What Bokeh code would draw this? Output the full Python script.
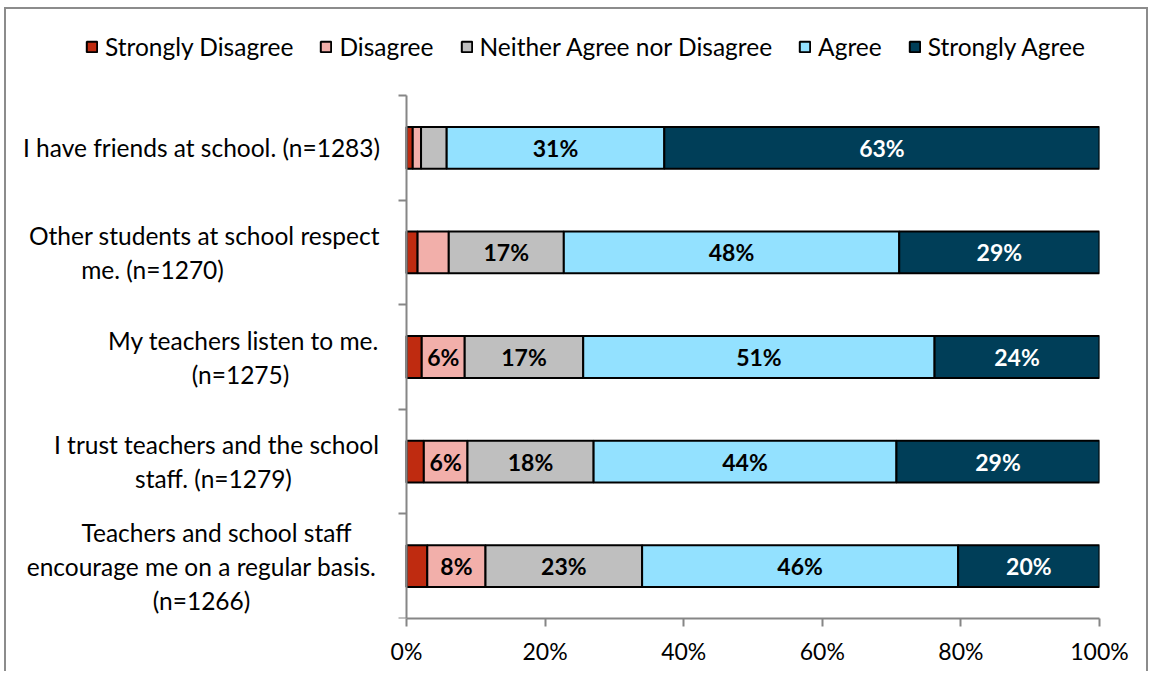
from bokeh.plotting import figure
from bokeh.models import ColumnDataSource, Range1d, FixedTicker, Legend, LegendItem, Label
from bokeh.core.properties import value
from bokeh.embed import file_html
from bokeh.resources import INLINE

# ---- data ----
categories = [
    ["I have friends at school. (n=1283)"],
    ["Other students at school respect", "me. (n=1270)"],
    ["My teachers listen to me.", "(n=1275)"],
    ["I trust teachers and the school", "staff. (n=1279)"],
    ["Teachers and school staff", "encourage me on a regular basis.", "(n=1266)"],
]
series = ["Strongly Disagree", "Disagree", "Neither Agree nor Disagree", "Agree", "Strongly Agree"]
strongly_disagree = [0.9, 1.6, 2.2, 2.5, 3.0]
disagree = [1.2, 4.5, 6.2, 6.3, 8.4]
neither = [3.7, 16.6, 17.1, 18.2, 22.6]
agree = [31.4, 48.4, 50.7, 43.7, 45.6]
strongly_agree = [62.8, 28.9, 23.8, 29.3, 20.4]
x_ticks = [0, 20, 40, 60, 80, 100]
x_tick_labels = ["0%", "20%", "40%", "60%", "80%", "100%"]

colors = ["#BF2B10", "#F2AFAA", "#BFBFBF", "#93E1FF", "#003E58"]
label_colors = ["black", "black", "black", "black", "white"]
FONT = "Lato"

values = [strongly_disagree, disagree, neither, agree, strongly_agree]
n = len(categories)
ypos = [n - 0.5 - i for i in range(n)]

# ---- geometry (pixels) ----
W, H = 1144, 664
frame_right_border = 51
frame_bottom_border = 55
plot_left_px = 400      # where 0% sits, from frame left
plot_top_px = 86        # where top category boundary sits, from frame top
px_per_x = 693 / 100.0
frame_w = W - frame_right_border
frame_h = H - frame_bottom_border
px_per_y = (frame_h - plot_top_px) / n
x0 = -plot_left_px / px_per_x
x1 = x0 + frame_w / px_per_x
y1 = n + plot_top_px / px_per_y

p = figure(width=W, height=H, output_backend="svg", toolbar_location=None,
           x_range=Range1d(x0, x1), y_range=Range1d(0, y1),
           min_border_left=0, min_border_right=frame_right_border,
           min_border_top=0, min_border_bottom=frame_bottom_border)
p.outline_line_color = None
p.xgrid.visible = False
p.ygrid.visible = False
p.background_fill_color = "white"
p.border_fill_color = "white"
p.styles = {"border-top": "2px solid #8c8c8c", "border-left": "2px solid #8c8c8c",
            "border-right": "2px solid #8c8c8c", "margin-top": "7px", "margin-left": "4px"}

# stacked bars
legend_items = []
cum = [0.0] * n
text_x, text_y, text_s, text_c = [], [], [], []
for k, name in enumerate(series):
    left = list(cum)
    right = [cum[i] + values[k][i] for i in range(n)]
    src = ColumnDataSource(dict(y=ypos, left=left, right=right))
    r = p.hbar(y="y", left="left", right="right", height=0.4, source=src,
               fill_color=colors[k], line_color="black", line_width=2)
    legend_items.append(LegendItem(label=name, renderers=[r]))
    for i in range(n):
        v = values[k][i]
        if v >= 5:
            text_x.append((left[i] + right[i]) / 2)
            text_y.append(ypos[i])
            text_s.append(f"{round(v)}%")
            text_c.append(label_colors[k])
    cum = right

tsrc = ColumnDataSource(dict(x=text_x, y=text_y, t=text_s, c=text_c))
p.text(x="x", y="y", text="t", source=tsrc, text_color="c", text_align="center",
       text_baseline="middle", text_font=value(FONT), text_font_style="bold",
       text_font_size="23px")

# axes
for ax in (p.xaxis[0], p.yaxis[0]):
    ax.axis_line_color = "#868686"
    ax.axis_line_width = 2
    ax.major_tick_line_color = "#868686"
    ax.major_tick_line_width = 2
    ax.major_tick_out = 8
    ax.major_tick_in = 0
    ax.minor_tick_line_color = None
    ax.major_label_text_font = FONT
    ax.major_label_text_font_size = "23px"
    ax.major_label_text_color = "black"

p.xaxis.ticker = FixedTicker(ticks=x_ticks)
p.xaxis.major_label_overrides = {t: l for t, l in zip(x_ticks, x_tick_labels)}
p.xaxis.major_label_standoff = 10
p.xaxis.bounds = (0, 100)
p.yaxis.ticker = FixedTicker(ticks=list(range(n + 1)))
p.yaxis.major_label_overrides = {i: "" for i in range(n + 1)}
p.yaxis.bounds = (0, n)
p.yaxis.fixed_location = 0

# category labels (line centers measured relative to the 0% position)
line_centers = [[-205], [-202, -254], [-163, -166], [-190, -193], [-190, -205, -205]]
line_gap = 34
for i, lines in enumerate(categories):
    m = len(lines)
    for j, line in enumerate(lines):
        off = ((m - 1) / 2 - j) * line_gap
        p.add_layout(Label(x=0, y=ypos[i], x_offset=line_centers[i][j], y_offset=off, text=line,
                           text_align="center", text_baseline="middle", text_font=FONT,
                           text_font_size="24.5px", text_color="black"))

legend = Legend(items=legend_items, orientation="horizontal", location=(79, 557),
                glyph_width=13, glyph_height=13, label_standoff=7, spacing=26,
                padding=0, margin=0, border_line_color=None, background_fill_alpha=0,
                label_text_font=FONT, label_text_font_size="24.5px", label_text_color="black")
p.add_layout(legend, "center")

open("out.html", "w").write(file_html(p, INLINE))
